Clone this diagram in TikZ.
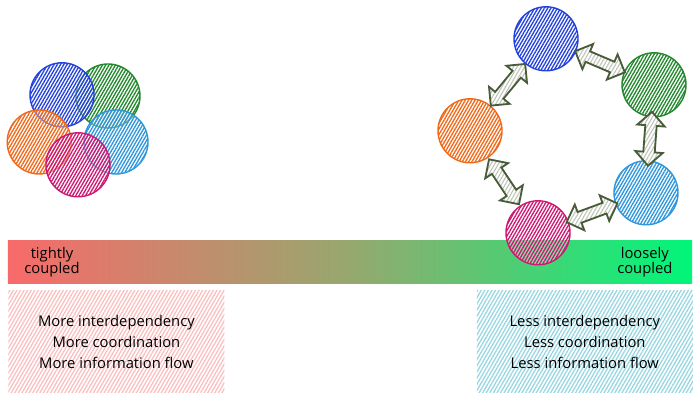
\documentclass[tikz,border=0pt]{standalone}
\usepackage{fontspec}
\setmainfont{Open Sans}
\usetikzlibrary{positioning,shapes.arrows,patterns.meta}
\definecolor{tblue}{RGB}{35,65,220}
\definecolor{tgreen}{RGB}{35,135,45}
\definecolor{torange}{RGB}{240,105,25}
\definecolor{tcyan}{RGB}{45,150,220}
\definecolor{tmagenta}{RGB}{205,25,115}
\definecolor{olive}{RGB}{72,92,55}
\definecolor{barred}{RGB}{248,106,106}
\definecolor{barmid}{RGB}{150,168,110}
\definecolor{bargreen}{RGB}{0,246,122}
\definecolor{notered}{RGB}{250,190,190}
\definecolor{notecyan}{RGB}{150,214,224}
\tikzset{
bubble/.style={circle, minimum size=1.6cm, inner sep=0pt, draw=#1, line width=1pt,
  preaction={fill=white, fill opacity=0.35},
  pattern={Lines[angle=60,distance=2pt,line width=0.95pt]}, pattern color=#1},
link/.style={double arrow, sloped, draw=olive, line width=1.3pt, inner xsep=0pt,
  inner ysep=0.12cm, minimum height=1.35cm, double arrow head extend=0.2cm,
  preaction={fill=white},
  pattern={Lines[angle=60,distance=2.3pt,line width=0.8pt]}, pattern color=olive!35},
note/.style={minimum width=5.4cm, minimum height=2.55cm, align=center,
  font=\fontsize{10.5}{15}\selectfont,
  pattern={Lines[angle=60,distance=2.2pt,line width=0.9pt]}},
end label/.style={align=center, font=\fontsize{10.5}{10.5}\selectfont},
}

\begin{document}
\begin{tikzpicture}
\useasboundingbox (0,0) rectangle (17.5,10);

\node[minimum width=17.1cm, minimum height=1.075cm, inner sep=0pt,
  left color=barred, right color=bargreen, middle color=barmid] (scale) at (8.75,3.46) {};
\node[end label] (tight) at (1.3,3.45) {tightly\\coupled};
\node[end label] (loose) at (16.12,3.45) {loosely\\coupled};

\node[note, pattern color=notered] (more) at (2.91,1.46)
  {More interdependency\\More coordination\\More information flow};
\node[note, pattern color=notecyan] (less) at (14.62,1.46)
  {Less interdependency\\Less coordination\\Less information flow};

\node[bubble=tgreen] (lgreen) at (2.7,7.6) {};
\node[bubble=tblue] (lblue) at (1.55,7.63) {};
\node[bubble=torange] (lorange) at (0.98,6.45) {};
\node[bubble=tcyan] (lcyan) at (2.9,6.45) {};
\node[bubble=tmagenta] (lmagenta) at (1.95,5.88) {};

\node[bubble=tblue] (rblue) at (13.65,9.03) {};
\node[bubble=tgreen] (rgreen) at (16.35,7.88) {};
\node[bubble=torange] (rorange) at (11.75,6.73) {};
\node[bubble=tcyan] (rcyan) at (16.15,5.18) {};
\node[bubble=tmagenta] (rmagenta) at (13.45,4.18) {};

\path (rblue) -- node[link] {} (rorange);
\path (rblue) -- node[link] {} (rgreen);
\path (rgreen) -- node[link] {} (rcyan);
\path (rcyan) -- node[link] {} (rmagenta);
\path (rmagenta) -- node[link] {} (rorange);

\end{tikzpicture}
\end{document}
